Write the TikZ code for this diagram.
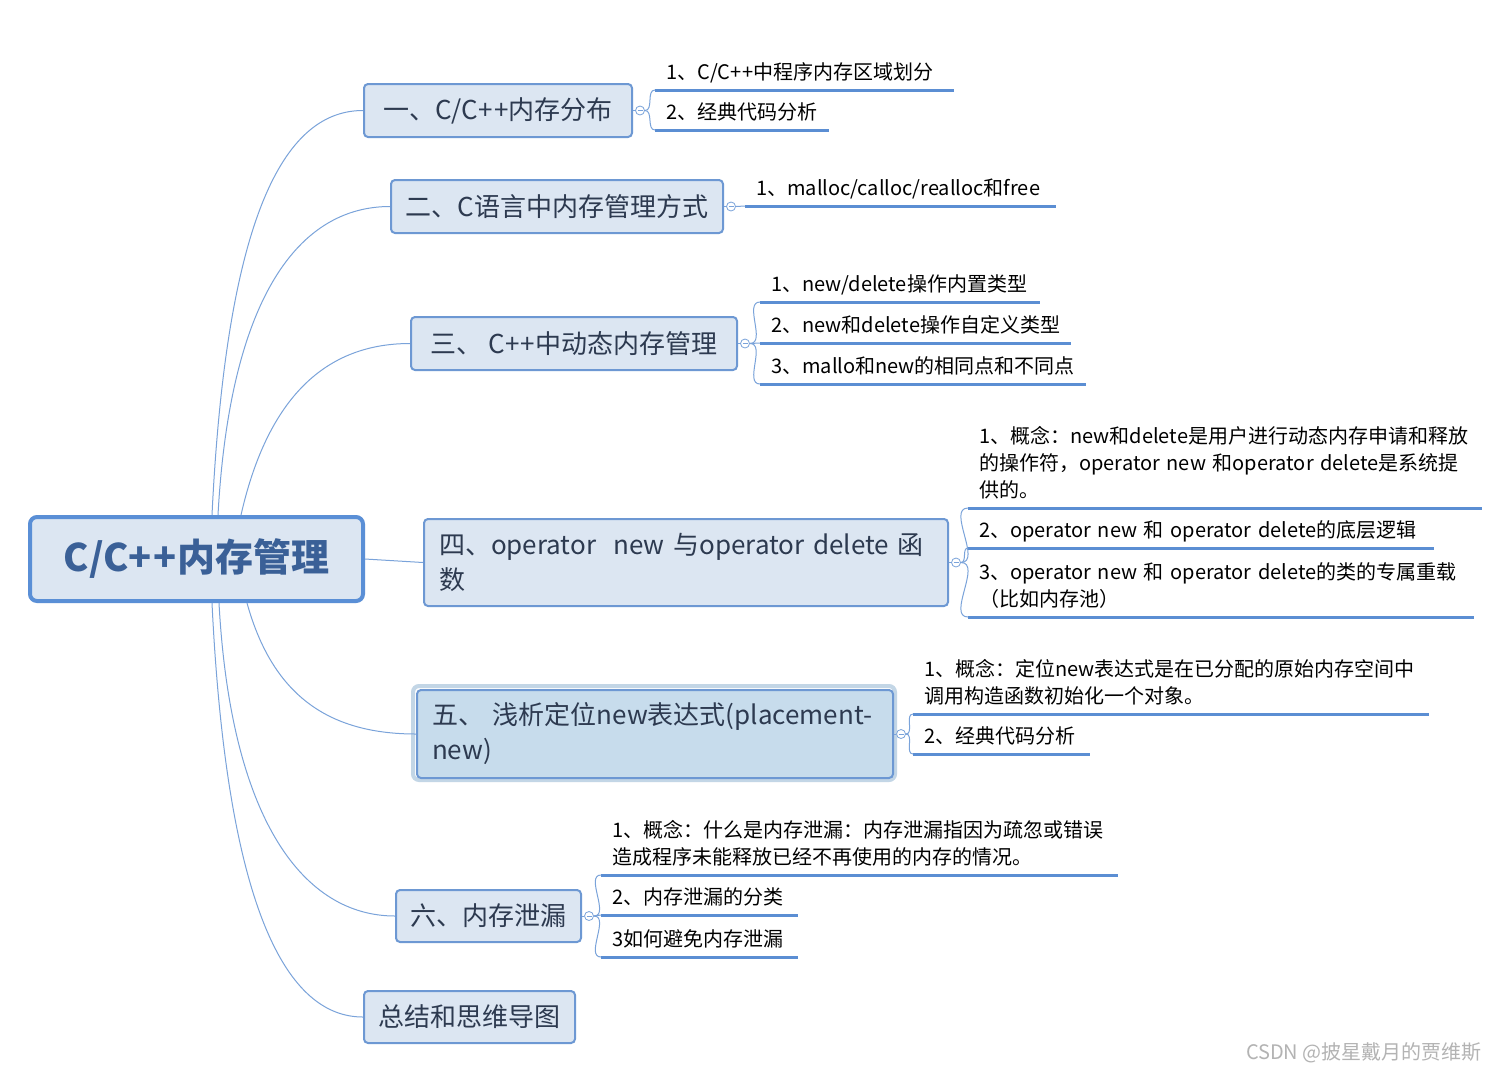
\documentclass[tikz,border=0pt]{standalone}
\usepackage{fontspec}
\setmainfont{Noto Sans CJK SC}
\definecolor{boxfill}{HTML}{DCE6F2}
\definecolor{boxline}{HTML}{6D98D3}
\definecolor{rootline}{HTML}{5A8FD6}
\definecolor{roottext}{HTML}{3A6097}
\definecolor{brtext}{HTML}{2D3A50}
\definecolor{conncol}{HTML}{7AA3DA}
\definecolor{ulcol}{HTML}{5B8ED3}
\definecolor{selfill}{HTML}{C7DCEC}
\definecolor{halo}{HTML}{C3D6E6}
\definecolor{wm}{HTML}{B3B3B3}
\tikzset{
 rootbox/.style={draw=rootline, fill=boxfill, line width=4bp, rounded corners=7bp, anchor=north west, text=roottext, font=\fontsize{38bp}{44bp}\selectfont\bfseries, inner sep=0pt},
 branch/.style={draw=boxline, fill=boxfill, line width=2bp, rounded corners=4bp, anchor=north west, text=brtext, font=\fontsize{26bp}{35bp}\selectfont, inner sep=0pt},
 leaf/.style={anchor=south west, font=\fontsize{20bp}{27bp}\selectfont, align=left, inner xsep=11bp, inner ysep=2bp},
 ul/.style={draw=ulcol, line width=3bp},
 conn/.style={draw=conncol, line width=1bp},
 knob/.style={circle, draw=conncol, fill=white, line width=0.8bp, minimum size=9bp, inner sep=0pt,
   path picture={\draw[conncol, line width=0.8bp] ([xshift=-2.5bp]path picture bounding box.center) -- ([xshift=2.5bp]path picture bounding box.center);}},
}
\begin{document}
\begin{tikzpicture}[x=1bp,y=-1bp]
\useasboundingbox[fill=white] (0,0) rectangle (1498,1072);

% root
\node[rootbox, minimum width=333bp, minimum height=84bp] (root) at (28,515) {C/C+\kern2bp+内存管理};

% branches
\node[branch, minimum width=268bp, minimum height=53bp] (b1) at (363,83) {一、C/C+\kern1.5bp+内存分布};
\node[branch, minimum width=332bp, minimum height=53bp] (b2) at (390,179) {二、C语言中内存管理方式};
\node[branch, minimum width=326bp, minimum height=53bp] (b3) at (410,316) {三、 C+\kern1.5bp+中动态内存管理};
\node[branch, minimum width=524bp, minimum height=87bp, align=left, text width=494bp] (b4) at (423,518) {四、operator~~new 与operator delete 函\\数};
\draw[draw=halo, line width=4bp, rounded corners=6bp] (413,686) rectangle (895,780);
\node[branch, fill=selfill, minimum width=476bp, minimum height=88bp, align=left, text width=446bp] (b5) at (416,689) {五、 浅析定位new表达式(placement-\\new)};
\node[branch, minimum width=185bp, minimum height=52bp] (b6) at (395,889) {六、内存泄漏};
\node[branch, minimum width=211bp, minimum height=52bp] (b7) at (363,990) {总结和思维导图};

% root connectors
\coordinate (r1) at ([xshift=184bp]root.north west);
\coordinate (r2) at ([xshift=190bp]root.north west);
\coordinate (r3) at ([xshift=213bp]root.north west);
\coordinate (r5) at ([xshift=219bp]root.south west);
\coordinate (r6) at ([xshift=191bp]root.south west);
\coordinate (r7) at ([xshift=184bp]root.south west);
\draw[conn] (r1) .. controls +(15,-310) and +(-75,0) .. (b1.west);
\draw[conn] (r2) .. controls +(12,-220) and +(-90,0) .. (b2.west);
\draw[conn] (r3) .. controls +(25,-110) and +(-90,0) .. (b3.west);
\draw[conn] (root.east) -- (b4.west);
\draw[conn] (r5) .. controls +(25,90) and +(-90,0) .. (b5.west);
\draw[conn] (r6) .. controls +(12,220) and +(-90,0) .. (b6.west);
\draw[conn] (r7) .. controls +(15,310) and +(-75,0) .. (b7.west);

% knobs
\node[knob] (k1) at ([xshift=7bp]b1.east) {};
\node[knob] (k2) at ([xshift=7bp]b2.east) {};
\node[knob] (k3) at ([xshift=7bp]b3.east) {};
\node[knob] (k4) at ([xshift=7bp]b4.east) {};
\node[knob] (k5) at ([xshift=7bp]b5.east) {};
\node[knob] (k6) at ([xshift=7bp]b6.east) {};

% leaves
\node[leaf, text width=277bp] (l11) at (655,90) {1、C/C+\kern1bp+中程序内存区域划分\strut};
\node[leaf, text width=152bp] (l12) at (655,130) {2、经典代码分析\strut};
\node[leaf, text width=289bp] (l21) at (745,206) {1、malloc/calloc/realloc和free\strut};
\node[leaf, text width=258bp] (l31) at (760,302) {1、new/delete操作内置类型\strut};
\node[leaf, text width=289bp] (l32) at (760,343) {2、new和delete操作自定义类型\strut};
\node[leaf, text width=304bp] (l33) at (760,384) {3、mallo和new的相同点和不同点\strut};
\node[leaf, text width=492bp] (l41) at (968,508) {1、概念：new和delete是用户进行动态内存申请和释放\\的操作符，operator new 和operator delete是系统提\\供的。\strut};
\node[leaf, text width=444bp] (l42) at (968,548) {2、operator new 和 operator delete的底层逻辑\strut};
\node[leaf, text width=484bp] (l43) at (968,617) {3、operator new 和 operator delete的类的专属重载\\（比如内存池）\strut};
\node[leaf, text width=494bp] (l51) at (913,714) {1、概念：定位new表达式是在已分配的原始内存空间中\\调用构造函数初始化一个对象。\strut};
\node[leaf, text width=155bp] (l52) at (913,754) {2、经典代码分析\strut};
\node[leaf, text width=495bp] (l61) at (601,875) {1、概念：什么是内存泄漏：内存泄漏指因为疏忽或错误\\造成程序未能释放已经不再使用的内存的情况。\strut};
\node[leaf, text width=175bp] (l62) at (601,915) {2、内存泄漏的分类\strut};
\node[leaf, text width=175bp] (l63) at (601,957) {3如何避免内存泄漏\strut};

% underlines
\foreach \l in {l11,l12,l21,l31,l32,l33,l41,l42,l43,l51,l52,l61,l62,l63}
  \draw[ul] (\l.south west) -- (\l.south east);

% knob to box
\foreach \k/\b in {k1/b1,k2/b2,k3/b3,k4/b4,k5/b5,k6/b6}
  \draw[conn] (\b.east) -- (\k.west);

% knob to leaves
\draw[conn] (k1.east) to[out=0,in=180] (l11.south west);
\draw[conn] (k1.east) to[out=0,in=180] (l12.south west);
\draw[conn] (k2.east) -- (l21.south west);
\draw[conn] (k3.east) to[out=0,in=180] (l31.south west);
\draw[conn] (k3.east) -- (l32.south west);
\draw[conn] (k3.east) to[out=0,in=180] (l33.south west);
\draw[conn] (k4.east) to[out=0,in=180] (l41.south west);
\draw[conn] (k4.east) to[out=0,in=180] (l42.south west);
\draw[conn] (k4.east) to[out=0,in=180] (l43.south west);
\draw[conn] (k5.east) to[out=0,in=180] (l51.south west);
\draw[conn] (k5.east) to[out=0,in=180] (l52.south west);
\draw[conn] (k6.east) to[out=0,in=180] (l61.south west);
\draw[conn] (k6.east) to[out=0,in=180] (l62.south west);
\draw[conn] (k6.east) to[out=0,in=180] (l63.south west);

% watermark
\node[anchor=base east, text=wm, font=\fontsize{20bp}{24bp}\selectfont, inner sep=0pt] (wmk) at (1482,1059) {CSDN @披星戴月的贾维斯};
\end{tikzpicture}
\end{document}
